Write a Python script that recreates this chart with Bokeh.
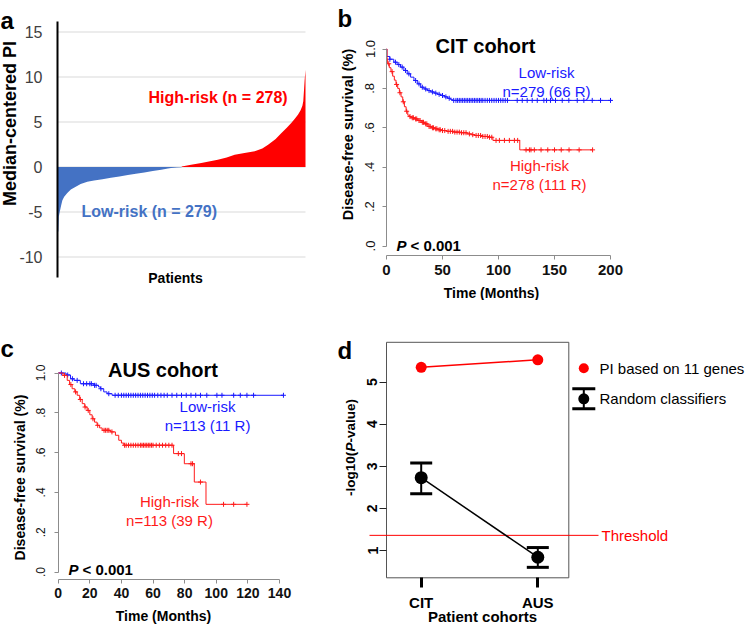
import numpy as np
from bokeh.plotting import figure
from bokeh.layouts import row, column
from bokeh.models import (Range1d, FixedTicker, Label, ColumnDataSource,
                          Whisker, TeeHead)
from bokeh.embed import file_html
from bokeh.resources import INLINE

FONT = "Liberation Sans"
BLUE_BAR = "#4472C4"
RED_BAR = "#FF0000"
KM_BLUE = "#1a1aff"
KM_RED = "#ff1a1a"

# ---------------- data ----------------
# (a) median-centred prognostic index, sorted, read along patient rank
low_idx = [0, 2, 3, 5, 8, 11, 15, 22, 30, 41, 52, 67, 82, 101, 120, 139, 158,
           176, 195, 214, 233, 248, 255, 268, 279]
low_pi = [-7.4, -7.1, -5.5, -5.0, -4.3, -3.7, -3.3, -2.9, -2.5, -2.2, -1.9,
          -1.65, -1.5, -1.35, -1.2, -1.05, -0.9, -0.75, -0.6, -0.45, -0.3,
          -0.18, -0.12, -0.05, -0.02]
high_idx = [279, 300, 323, 340, 360, 380, 398, 420, 443, 460, 473, 490, 503,
            515, 525, 533, 540, 546, 550, 552, 554, 555, 557]
high_pi = [0.05, 0.25, 0.44, 0.6, 0.81, 1.05, 1.37, 1.55, 1.74, 2.05, 2.48,
           3.1, 3.78, 4.35, 4.9, 5.35, 5.8, 6.3, 6.8, 7.3, 8.8, 9.6, 10.8]
pi_ticks = [-10, -5, 0, 5, 10, 15]
pi_tick_labels = ["-10", "-5", "0", "5", "10", "15"]

# (b) CIT cohort Kaplan-Meier
cit_low_t = [0, 0.3, 3, 6.5, 9.5, 12.5, 15.5, 18.5, 21.5, 24.5, 27.5, 30.5,
             33.5, 36.5, 39.5, 42.5, 45.5, 48.5, 51.5, 54.5, 57, 59, 201.5]
cit_low_s = [1.0, 0.962, 0.948, 0.933, 0.921, 0.908, 0.891, 0.874, 0.857,
             0.840, 0.823, 0.806, 0.797, 0.789, 0.782, 0.776, 0.770, 0.764,
             0.757, 0.750, 0.744, 0.739, 0.739]
cit_low_cens = [3, 8, 11, 14, 17, 20, 26, 29, 32, 35, 38, 41, 44, 47, 50, 53,
                56, 60, 62, 63.5, 65, 66.5, 68, 69.5, 71, 72.5, 74, 75.5, 77,
                78.5, 80, 81.5, 83, 84.5, 86, 88, 90, 92, 94, 96, 98, 100,
                102, 104, 106, 108, 116.7, 121.2, 125.6, 130.1, 134.6, 140.5,
                142.9, 146.4, 150.9, 156.9, 162.8, 170.3, 176.2, 183.7,
                191.1, 200]
cit_high_t = [0, 0.5, 1, 2.5, 4, 5.5, 7, 8.5, 10, 11.5, 13, 14.5, 16, 17.5,
              19, 20.5, 22, 25, 28, 31, 34, 37, 40, 43, 46, 49, 54, 60, 66,
              72, 76, 79, 85, 91, 95, 119, 184]
cit_high_s = [1.0, 0.95, 0.925, 0.905, 0.885, 0.862, 0.842, 0.82, 0.80,
              0.778, 0.757, 0.732, 0.707, 0.684, 0.664, 0.657, 0.651, 0.645,
              0.637, 0.628, 0.620, 0.607, 0.600, 0.595, 0.590, 0.586, 0.582,
              0.578, 0.575, 0.569, 0.565, 0.561, 0.556, 0.552, 0.536, 0.488,
              0.488]
cit_high_cens = [2, 5, 9, 12, 15, 18, 21, 23, 24, 26, 27, 29, 30, 32, 33, 35,
                 36, 38, 39, 41, 42, 44, 45, 47, 48, 50, 52, 55, 57, 59, 61,
                 63, 65, 67, 69, 71, 74, 77, 80, 82, 84, 86, 88, 90, 92, 94,
                 97.8, 100.8, 105.3, 109.7, 114.2, 117.1, 124.6, 127.6, 129,
                 132, 138, 144, 150, 156, 163, 172, 184]

# (c) AUS cohort Kaplan-Meier
aus_low_t = [0, 5, 7.8, 10, 14, 22.5, 25.5, 26.7, 28.8, 30.9, 34.1, 142.5]
aus_low_s = [1.0, 0.99, 0.971, 0.963, 0.946, 0.938, 0.93, 0.921, 0.905,
             0.896, 0.888, 0.888]
aus_low_cens = [2, 6, 9, 12, 16, 18, 20, 21, 23, 24, 27, 32, 36, 38, 40,
                41.5, 43, 44.5, 46, 47.5, 49, 50.5, 52, 53.5, 55, 56.5, 58,
                59.5, 61, 63, 65, 67, 69, 72, 75, 78, 81, 84, 87, 90, 94,
                100.4, 103.6, 111, 115.2, 119.4, 123.6, 142.5]
aus_high_t = [0, 3, 5.7, 7.2, 8.8, 10.5, 12, 13.6, 15.2, 16.8, 18.3, 20,
              21.5, 23, 24.6, 26.2, 27.8, 33, 36.2, 38.3, 40, 41.5, 73, 79.8,
              86.1, 93.5, 119.4]
aus_high_s = [1.0, 0.988, 0.963, 0.942, 0.921, 0.905, 0.888, 0.867, 0.846,
              0.829, 0.812, 0.79, 0.770, 0.753, 0.737, 0.724, 0.712, 0.704,
              0.687, 0.662, 0.648, 0.637, 0.595, 0.544, 0.452, 0.340, 0.340]
aus_high_cens = [4, 8, 11, 14, 17, 19, 22, 25, 29, 30, 31, 32, 34, 42, 43,
                 44.5, 46, 47.5, 49, 50.5, 52, 53, 54, 55, 56, 57, 58, 59, 60,
                 62, 64, 66, 68, 70, 72, 76, 78, 84, 85, 90, 104.6, 111,
                 119.4]

surv_ticks = [0.0, 0.2, 0.4, 0.6, 0.8, 1.0]
surv_labels = [".0", ".2", ".4", ".6", ".8", "1.0"]
cit_time_ticks = [0, 50, 100, 150, 200]
aus_time_ticks = [0, 20, 40, 60, 80, 100, 120, 140]

# (d) -log10(P) per cohort
cohorts = ["CIT", "AUS"]
cohort_pos = [1, 2]
pi_logp = [5.35, 5.53]
rand_mean = [2.73, 0.84]
rand_upper = [3.08, 1.07]
rand_lower = [2.35, 0.60]
threshold = 1.36
logp_ticks = [1, 2, 3, 4, 5]


# ---------------- helpers ----------------
def lin(p0, p1, v0, v1):
    return lambda p: v0 + (p - p0) * (v1 - v0) / (p1 - p0)


def lab(p, x, y, text, size, color="black", style="normal", align="left",
        baseline="middle", angle=0.0):
    p.add_layout(Label(x=x, y=y, text=text, text_font=FONT,
                       text_font_size=f"{size}px", text_color=color,
                       text_font_style=style, text_align=align,
                       text_baseline=baseline, angle=angle))


def base_fig(w, h, fx, fy, left, top):
    # the frame fills the whole canvas; axes are pinned with fixed_location
    p = figure(width=w, height=h,
               x_range=Range1d(fx(left), fx(left + w)),
               y_range=Range1d(fy(top + h), fy(top)),
               min_border_left=0, min_border_right=0, min_border_top=0,
               min_border_bottom=0, output_backend="svg",
               toolbar_location=None, title=None)
    p.outline_line_color = None
    p.xgrid.visible = False
    p.ygrid.visible = False
    for ax in (p.xaxis, p.yaxis):
        ax.minor_tick_line_color = None
        ax.major_tick_in = 0
        ax.major_label_text_font = FONT
    return p


def step_lookup(times, surv, pts):
    times = np.asarray(times)
    surv = np.asarray(surv)
    idx = np.searchsorted(times, np.asarray(pts), side="right") - 1
    return surv[np.clip(idx, 0, len(surv) - 1)]


def km_axes(p, time_ticks, tmax, x_at, xsize, ysize, xstand, ystand):
    p.xaxis.fixed_location = x_at
    p.yaxis.fixed_location = 0
    p.xaxis.ticker = FixedTicker(ticks=time_ticks)
    p.xaxis.bounds = (0, tmax)
    p.yaxis.ticker = FixedTicker(ticks=surv_ticks)
    p.yaxis.bounds = (0, 1)
    p.yaxis.major_label_overrides = {float(k): v for k, v in zip(surv_ticks, surv_labels)}
    p.yaxis.major_label_orientation = "vertical"
    for ax in (p.xaxis, p.yaxis):
        ax.axis_line_color = "#8c8c8c"
        ax.major_tick_line_color = "#8c8c8c"
        ax.major_tick_out = 4
        ax.major_label_text_color = "#111111"
    p.xaxis.major_label_standoff = xstand
    p.yaxis.major_label_standoff = ystand
    p.xaxis.major_label_text_font_style = "bold"
    p.xaxis.major_label_text_font_size = f"{xsize}px"
    p.yaxis.major_label_text_font_size = f"{ysize}px"


def km_curves(p, t, s, cens, color):
    p.step(t, s, mode="after", line_color=color, line_width=1)
    p.scatter(cens, step_lookup(t, s, cens), marker="cross", size=5,
              line_color=color, line_width=1)


# ---------------- panel a ----------------
ax_ = lin(57, 305, 0, 557)
ay_ = lin(166.5, 121.5, 0, 5)
pa = base_fig(330, 300, ax_, ay_, 0, 0)
pa.segment(x0=[ax_(57)] * len(pi_ticks), x1=[ax_(305)] * len(pi_ticks),
           y0=pi_ticks, y1=pi_ticks, line_color="#d9d9d9", line_width=1)
pa.varea(x=low_idx, y1=[0] * len(low_idx), y2=low_pi, fill_color=BLUE_BAR)
pa.varea(x=high_idx, y1=[0] * len(high_idx), y2=high_pi, fill_color=RED_BAR)
pa.xaxis.visible = False
pa.yaxis.fixed_location = ax_(57)
pa.yaxis.ticker = FixedTicker(ticks=pi_ticks)
pa.yaxis.major_label_overrides = {float(k): v for k, v in zip(pi_ticks, pi_tick_labels)}
pa.yaxis.bounds = (ay_(277), ay_(21))
pa.yaxis.axis_line_color = "black"
pa.yaxis.axis_line_width = 2
pa.yaxis.major_tick_line_color = None
pa.yaxis.major_tick_out = 0
pa.yaxis.major_label_standoff = 15
pa.yaxis.major_label_text_font_size = "16px"
pa.yaxis.major_label_text_color = "#404040"
lab(pa, ax_(0), ay_(20), "a", 24, style="bold", baseline="alphabetic")
lab(pa, ax_(9.5), ay_(123), "Median-centered PI", 18, style="bold",
    align="center", angle=np.pi / 2)
lab(pa, ax_(175), ay_(277), "Patients", 14, style="bold", align="center")
lab(pa, ax_(148), ay_(97), "High-risk (n = 278)", 16, color=RED_BAR, style="bold")
lab(pa, ax_(81), ay_(211), "Low-risk (n = 279)", 16, color=BLUE_BAR, style="bold")

# ---------------- panel b ----------------
bx = lin(386, 610, 0, 200)
by = lin(245.5, 48.5, 0, 1)
pb = base_fig(418, 300, bx, by, 330, 0)
km_curves(pb, cit_low_t, cit_low_s, cit_low_cens, KM_BLUE)
km_curves(pb, cit_high_t, cit_high_s, cit_high_cens, KM_RED)
km_axes(pb, cit_time_ticks, 200, by(255), 15, 13, 5, 8)
lab(pb, bx(337), by(18), "b", 24, style="bold", baseline="alphabetic")
lab(pb, bx(347), by(134), "Disease-free survival (%)", 14.5, style="bold",
    align="center", angle=np.pi / 2)
lab(pb, bx(491), by(292), "Time (Months)", 14, style="bold", align="center")
lab(pb, bx(485), by(45), "CIT cohort", 20, style="bold", align="center")
lab(pb, bx(546), by(72), "Low-risk", 15, color=KM_BLUE, align="center")
lab(pb, bx(546), by(91), "n=279 (66 R)", 15, color=KM_BLUE, align="center")
lab(pb, bx(539), by(165), "High-risk", 15, color=KM_RED, align="center")
lab(pb, bx(539), by(184), "n=278 (111 R)", 15, color=KM_RED, align="center")
lab(pb, bx(396), by(245), "P", 15, style="bold italic")
lab(pb, bx(410), by(245), "< 0.001", 15, style="bold")

# ---------------- panel c ----------------
cx = lin(57.7, 279, 0, 140)
cy = lin(571.5, 372.5, 0, 1)
pc = base_fig(330, 327, cx, cy, 0, 300)
km_curves(pc, aus_low_t, aus_low_s, aus_low_cens, KM_BLUE)
km_curves(pc, aus_high_t, aus_high_s, aus_high_cens, KM_RED)
km_axes(pc, aus_time_ticks, 140, cy(579), 14, 12, 4, 9)
lab(pc, cx(0), cy(348), "c", 24, style="bold", baseline="alphabetic")
lab(pc, cx(19), cy(477), "Disease-free survival (%)", 14, style="bold",
    align="center", angle=np.pi / 2)
lab(pc, cx(163), cy(615), "Time (Months)", 14, style="bold", align="center")
lab(pc, cx(162.5), cy(369), "AUS cohort", 20, style="bold", align="center")
lab(pc, cx(207), cy(406), "Low-risk", 15, color=KM_BLUE, align="center")
lab(pc, cx(207), cy(425), "n=113 (11 R)", 15, color=KM_BLUE, align="center")
lab(pc, cx(169), cy(501), "High-risk", 15, color=KM_RED, align="center")
lab(pc, cx(169), cy(520), "n=113 (39 R)", 15, color=KM_RED, align="center")
lab(pc, cx(68), cy(569), "P", 15, style="bold italic")
lab(pc, cx(82), cy(569), "< 0.001", 15, style="bold")

# ---------------- panel d ----------------
dx = lin(420.7, 537.3, 1, 2)
dy = lin(550, 381.6, 1, 5)
pd_ = base_fig(418, 327, dx, dy, 330, 300)
pd_.quad(left=[dx(386)], right=[dx(568.3)], bottom=[dy(577.3)], top=[dy(341.8)],
         fill_color=None, line_color="#555555", line_width=1)
pd_.segment(x0=[dx(369)], y0=[threshold], x1=[dx(598)], y1=[threshold],
            line_color="#ff0000", line_width=1)
lab(pd_, dx(601), threshold, "Threshold", 15, color="#ff0000")

pd_.line(cohort_pos, pi_logp, line_color="#ff0000", line_width=1.5)
pd_.scatter(cohort_pos, pi_logp, size=11, fill_color="#ff0000", line_color=None)

err_src = ColumnDataSource(dict(x=cohort_pos, upper=rand_upper, lower=rand_lower))
pd_.line(cohort_pos, rand_mean, line_color="black", line_width=1.5)
pd_.add_layout(Whisker(source=err_src, base="x", upper="upper", lower="lower",
                       line_color="black", line_width=2,
                       upper_head=TeeHead(size=22, line_width=3, line_color="black"),
                       lower_head=TeeHead(size=22, line_width=3, line_color="black")))
pd_.scatter(cohort_pos, rand_mean, size=13, fill_color="black", line_color=None)

# legend
pd_.scatter([dx(583.3)], [dy(367.7)], size=10, fill_color="#ff0000", line_color=None)
lab(pd_, dx(599), dy(367.7), "PI based on 11 genes", 15)
leg_src = ColumnDataSource(dict(x=[dx(583.3)], upper=[dy(388.3)], lower=[dy(408.3)]))
pd_.add_layout(Whisker(source=leg_src, base="x", upper="upper", lower="lower",
                       line_color="black", line_width=2,
                       upper_head=TeeHead(size=23, line_width=3, line_color="black"),
                       lower_head=TeeHead(size=23, line_width=3, line_color="black")))
pd_.scatter([dx(583.3)], [dy(398.3)], size=11, fill_color="black", line_color=None)
lab(pd_, dx(599), dy(398.3), "Random classifiers", 15)

pd_.xaxis.fixed_location = dy(577.3)
pd_.xaxis.ticker = FixedTicker(ticks=cohort_pos)
pd_.xaxis.major_label_overrides = {float(k): v for k, v in zip(cohort_pos, cohorts)}
pd_.xaxis.bounds = (1, 2)
pd_.xaxis.axis_line_color = None
pd_.xaxis.major_tick_line_color = "black"
pd_.xaxis.major_tick_line_width = 3
pd_.xaxis.major_tick_out = 10
pd_.xaxis.major_label_standoff = 6
pd_.xaxis.major_label_text_font_style = "bold"
pd_.xaxis.major_label_text_font_size = "15px"
pd_.xaxis.major_label_text_color = "black"
pd_.yaxis.fixed_location = dx(386)
pd_.yaxis.ticker = FixedTicker(ticks=logp_ticks)
pd_.yaxis.bounds = (1, 5)
pd_.yaxis.axis_line_color = None
pd_.yaxis.major_tick_line_color = "#222222"
pd_.yaxis.major_tick_out = 7
pd_.yaxis.major_label_standoff = 2
pd_.yaxis.major_label_orientation = "vertical"
pd_.yaxis.major_label_text_font_style = "bold"
pd_.yaxis.major_label_text_font_size = "14px"
pd_.yaxis.major_label_text_color = "black"

lab(pd_, dx(337), dy(350), "d", 24, style="bold", baseline="alphabetic")
lab(pd_, dx(350), dy(495.4), "-log10(", 13.5, style="bold", angle=np.pi / 2)
lab(pd_, dx(350), dy(451.1), "P", 13.5, style="bold italic", angle=np.pi / 2)
lab(pd_, dx(350), dy(442.1), "-value)", 13.5, style="bold", angle=np.pi / 2)
lab(pd_, dx(482), dy(616), "Patient cohorts", 15, style="bold", align="center")

layout = column(row(pa, pb), row(pc, pd_))
open("out.html", "w").write(file_html(layout, INLINE))
